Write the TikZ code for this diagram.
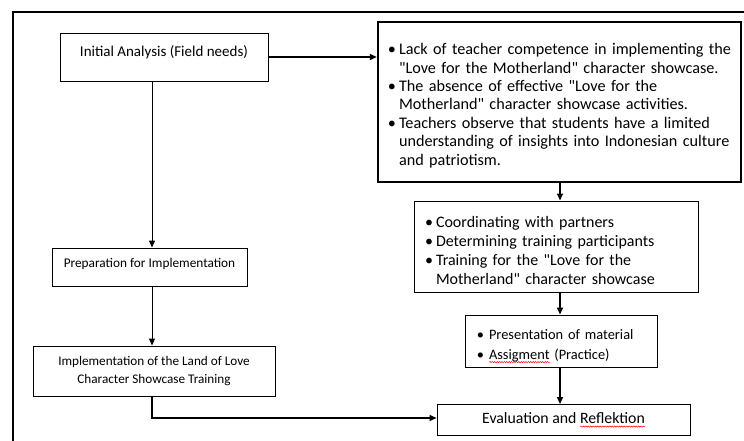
\documentclass[tikz,border=0pt]{standalone}
\usepackage{fontspec}
\setmainfont{Carlito}
\usepackage{enumitem}
\usetikzlibrary{arrows.meta,decorations.pathmorphing}

\newlength{\wavewd}
\newcommand{\spellwave}[1]{\leavevmode\settowidth{\wavewd}{#1}\rlap{\tikz[baseline=0pt]\draw [red, line width=0.5pt, decorate, decoration={snake,amplitude=0.6pt,segment length=2.4pt}] (0pt,-3pt) -- (\wavewd,-3pt);}#1}
\newcommand{\dq}{\textquotedbl}

\newlist{dotlist}{itemize}{1}
\setlist[dotlist]{label=\textbullet, topsep=0pt, itemsep=0pt, parsep=0pt, partopsep=0pt}

\tikzset{
  box/.style={draw, line width=0.9pt, inner sep=0pt, align=center},
  thickbox/.style={draw, line width=2.4pt, inner sep=0pt},
  listbox/.style={draw, line width=1pt, inner sep=0pt},
  flow/.style={-{Triangle[length=7pt,width=6pt]}, line width=1pt},
  boldflow/.style={-{Triangle[length=7pt,width=6pt]}, line width=1.6pt}
}

\begin{document}
\begin{tikzpicture}[x=1pt,y=-1pt]
    \useasboundingbox (0,0) rectangle (744,441);
    % frame
    \draw [line width=1.4pt] (13,441) -- (13,12) -- (744,12);
    % columns for the vertical connectors
    \coordinate (colL) at (152,0);
    \coordinate (colR) at (560,0);
    % left column
    \node[box, minimum width=208, minimum height=48, text depth=12pt, font=\fontsize{15}{18}\selectfont] (init) at (164,57) {Initial Analysis (Field needs)};
    \node[box, minimum width=195, minimum height=38, text depth=9pt, font=\fontsize{13.3}{16}\selectfont] (prep) at (149.5,267) {Preparation for Implementation};
    \node[box, minimum width=242, minimum height=50, font=\fontsize{13.2}{18}\selectfont] (impl) at (154,371) {Implementation of the Land of Love\\Character Showcase Training};
    % right column
    \node[thickbox, minimum width=363, minimum height=160, text width=361, font=\fontsize{16.2}{18.4}\selectfont\raggedright] (needs) at (559.5,102) {%
      \begin{dotlist}[leftmargin=20pt, labelsep=3pt]
        \item Lack of teacher competence in implementing the\newline \dq Love for the Motherland\dq{} character showcase.
        \item The absence of effective \dq Love for the\newline Motherland\dq{} character showcase activities.
        \item Teachers observe that students have a limited\newline understanding of insights into Indonesian culture\newline and patriotism.
      \end{dotlist}};
    \node[listbox, minimum width=284, minimum height=91, text width=282, font=\fontsize{16}{19.2}\selectfont\raggedright] (coord) at (556,246.5) {%
      \begin{dotlist}[leftmargin=21pt, labelsep=3pt]
        \item Coordinating with partners
        \item Determining training participants
        \item Training for the \dq Love for the\newline Motherland\dq{} character showcase
      \end{dotlist}};
    \node[listbox, minimum width=192, minimum height=52, text width=190, font=\fontsize{14.4}{20}\selectfont\raggedright] (material) at (561,341) {%
      \begin{dotlist}[leftmargin=23pt, labelsep=5pt]
        \item Presentation of material
        \item \spellwave{Assigment} (Practice)
      \end{dotlist}};
    \node[listbox, minimum width=253, minimum height=31, font=\fontsize{15.8}{17}\selectfont] (eval) at (563.5,420) {Evaluation and \spellwave{Reflektion}};
    % connectors
    \draw [boldflow] (init.east) -- (init.east -| needs.west);
    \draw [flow] (init.south -| colL) -- (prep.north -| colL);
    \draw [flow] (prep.south -| colL) -- (impl.north -| colL);
    \draw [boldflow] (impl.south -| colL) |- ([yshift=2pt]eval.west);
    \draw [boldflow] (needs.south -| colR) -- (coord.north -| colR);
    \draw [boldflow] (coord.south -| colR) -- (material.north -| colR);
    \draw [boldflow] (material.south -| colR) -- (eval.north -| colR);
\end{tikzpicture}
\end{document}
